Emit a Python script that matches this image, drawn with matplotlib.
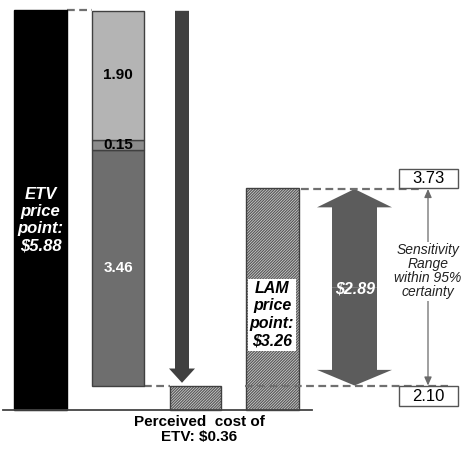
import matplotlib
matplotlib.use("Agg")
import matplotlib.pyplot as plt
from matplotlib.patches import FancyArrow, Rectangle

plt.rcParams['font.family'] = ['Liberation Sans', 'DejaVu Sans']
plt.rcParams['hatch.linewidth'] = 0.9

# values ($)
etv_price = 5.88
perceived_cost = 0.36
stack_values = [3.46, 0.15, 1.90]
stack_colors = ['#6e6e6e', '#8c8c8c', '#b4b4b4']
stack_text_colors = ['white', 'black', 'black']
lam_price = 3.26
price_gap = 2.89
range_low = 2.10
range_high = 3.73

# horizontal slots (pixel-like units across the figure)
x_etv, x_stack, x_perc, x_lam, x_gap, x_range = 40.5, 118, 195.5, 272.5, 354.5, 428
bar_w = 52

fig = plt.figure(figsize=(4.72, 4.54), dpi=100)
ax = fig.add_axes([0, 0, 1, 1])
ax.set_xlim(0, 472)
ax.set_ylim(-0.647, 6.029)
ax.axis('off')

dash = dict(color='#707070', lw=1.6, ls=(0, (3.5, 2)))

# ETV price bar
ax.bar(x_etv, etv_price, width=53, color='black', edgecolor='black', zorder=2)
ax.text(x_etv, 2.79, "ETV\nprice\npoint:\n$5.88", color='white', ha='center', va='center',
        fontsize=12, fontweight='bold', fontstyle='italic', linespacing=1.2, zorder=3)

# breakdown stack sitting on the perceived cost
bottom = perceived_cost
for val, col, tcol in zip(stack_values, stack_colors, stack_text_colors):
    rect = ax.bar(x_stack, val, bottom=bottom, width=bar_w, color=col,
                  edgecolor='#404040', lw=1, zorder=2)[0]
    t = ax.text(x_stack, bottom + val / 2, f"{val:.2f}", color=tcol, ha='center', va='center',
                fontsize=11, fontweight='bold', zorder=3)
    t.set_clip_path(rect)
    bottom += val

ax.plot([x_etv + 26.5, x_stack - bar_w / 2], [etv_price, etv_price], **dash, zorder=1)
ax.plot([x_stack + bar_w / 2, x_perc - 25.5], [perceived_cost, perceived_cost], **dash, zorder=1)

# down arrow from ETV price to perceived cost
ax.add_patch(FancyArrow(182, etv_price - 0.01, 0, -(etv_price - 0.01 - perceived_cost - 0.04),
                        width=14, head_width=26, head_length=0.21, length_includes_head=True,
                        color='#404040', lw=0, zorder=2))

# hatched bars: perceived cost and LAM price
for xc, h, w in [(x_perc, perceived_cost, 51), (x_lam, lam_price, 53)]:
    ax.bar(xc, h, width=w, color='#d8d8d8', edgecolor='#5a5a5a', hatch='/' * 12, lw=0, zorder=2)
    ax.bar(xc, h, width=w, fill=False, edgecolor='#404040', lw=1, zorder=2)

ax.text(x_lam - 0.5, 1.40, "LAM\nprice\npoint:\n$3.26", color='black', ha='center', va='center',
        fontsize=11.5, fontweight='bold', fontstyle='italic', linespacing=1.22, zorder=4,
        bbox=dict(boxstyle='square,pad=0.12', facecolor='white', edgecolor='none'))

# gap between perceived cost and LAM price
gap_top = perceived_cost + price_gap
mid = (gap_top + perceived_cost) / 2
ax.add_patch(FancyArrow(x_gap, mid, 0, gap_top - mid, width=45, head_width=75, head_length=0.27,
                        length_includes_head=True, color='#5c5c5c', lw=0, zorder=2))
ax.add_patch(FancyArrow(x_gap, mid, 0, perceived_cost - mid, width=45, head_width=75,
                        head_length=0.23, length_includes_head=True, color='#5c5c5c', lw=0, zorder=2))
ax.text(x_gap + 1, 1.78, f"${price_gap:.2f}", color='white', ha='center', va='center',
        fontsize=11.5, fontweight='bold', fontstyle='italic', zorder=3)

# sensitivity range markers
ax.plot([x_lam + 28, 422], [gap_top, gap_top], **dash, zorder=3)
ax.plot([245, 448], [perceived_cost, perceived_cost], **dash, zorder=3)
ax.annotate("", xy=(x_range, gap_top), xytext=(x_range, perceived_cost),
            arrowprops=dict(arrowstyle='<|-|>,head_length=0.5,head_width=0.22',
                            color='#6a6a6a', lw=0.9, shrinkA=0, shrinkB=0), zorder=1)
ax.text(x_range, 2.04, "Sensitivity\nRange\nwithin 95%\ncertainty", ha='center', va='center',
        fontsize=10, fontstyle='italic', color='#222222', linespacing=1.0, zorder=3,
        bbox=dict(boxstyle='square,pad=0.1', facecolor='white', edgecolor='none'))

# value boxes for the range ends
for label, y0 in [(range_high, 3.26), (range_low, 0.06)]:
    ax.add_patch(Rectangle((399, y0), 59, 0.29, facecolor='white', edgecolor='#555555',
                           lw=1, zorder=4))
    ax.text(428.5, y0 + 0.145, f"{label:.2f}", ha='center', va='center', fontsize=12, zorder=5)

# baseline and caption
ax.plot([3, 312], [0, 0], color='#444444', lw=1.3, zorder=3)
ax.text(199, -0.29, "Perceived  cost of\nETV: $0.36", ha='center', va='center', fontsize=11,
        fontweight='bold', linespacing=1.05)

fig.savefig("out.png", dpi=100)
